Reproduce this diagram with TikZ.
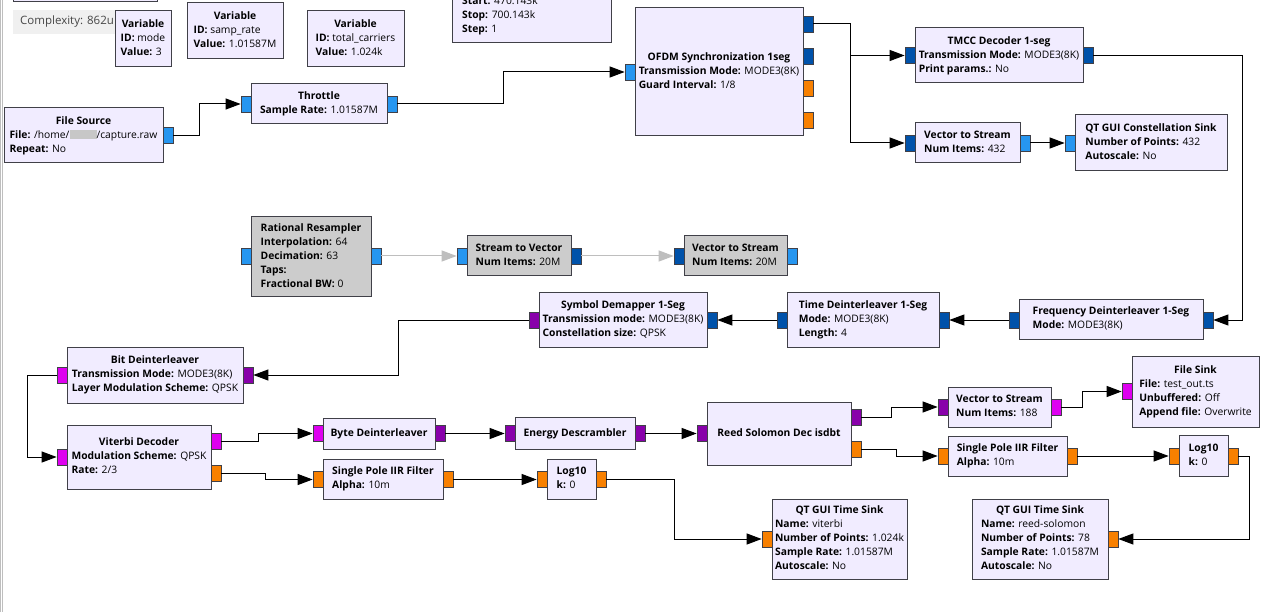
\documentclass[tikz,border=0pt]{standalone}
\usepackage{fontspec}
\setmainfont{Open Sans}
\usetikzlibrary{arrows.meta}
\definecolor{blkfill}{HTML}{F1ECFF}
\definecolor{offfill}{HTML}{CCCCCC}
\definecolor{blkline}{RGB}{64,64,72}
\definecolor{cplx}{RGB}{38,150,240}
\definecolor{cvec}{RGB}{0,82,170}
\definecolor{flt}{RGB}{248,128,0}
\definecolor{byt}{RGB}{222,0,240}
\definecolor{bvec}{RGB}{136,0,170}
\definecolor{offgrey}{RGB}{190,190,190}
\definecolor{cmpbg}{RGB}{240,240,240}
\definecolor{cmptext}{RGB}{70,70,70}
\newcommand\kv[2]{\textbf{#1:} #2}
\newcommand\blocktext[2]{\begin{tabular}{@{}l@{}}\multicolumn{1}{@{}c@{}}{\textbf{#1}}#2\end{tabular}}
\newcommand\blurname{\textcolor{black!22}{\rule[-1pt]{27pt}{9pt}}}
\tikzset{
	blk/.style 2 args={draw=blkline, fill=blkfill, line width=1pt, inner sep=0pt, minimum width=#1pt, minimum height=#2pt, font=\fontsize{10.3}{14}\selectfont},
	offblk/.style 2 args={blk={#1}{#2}, fill=offfill},
	port/.style={draw=blkline, fill=#1, line width=0.7pt, minimum width=10pt, minimum height=16pt, inner sep=0pt},
	wire/.style={line width=1pt, -{Triangle[length=15pt,width=11pt]}},
	offwire/.style={wire, draw=offgrey},
}

\begin{document}
\begin{tikzpicture}[x=1pt, y=-1pt]
		%%%%% START %%%%%
		\fill[white] (0,0) rectangle (1268,612);
		\useasboundingbox (0,0) rectangle (1268,612);
		\clip (0,0) rectangle (1268,612);
		
		\draw[offgrey, line width=1pt] (0.5,0) -- (0.5,612);
		\draw[offgrey, line width=1pt] (2.5,0) -- (2.5,612);
		
		\draw[blkline, fill=blkfill, line width=1pt] (13,-20) rectangle (157,2);
		\fill[cmpbg] (13,10) rectangle (140,34);
		\node[anchor=west, text=cmptext, inner sep=0pt, font=\fontsize{11.5}{13}\selectfont] (cmplx) at (20,22) {Complexity: 862u};
		
		\node[blk={159}{80}, anchor=south west] (range) at (452,43) {};
		\node[anchor=west, inner sep=0pt, align=left, font=\fontsize{10.3}{14}\selectfont] (rangetxt) at (462,16) {\kv{Start}{470.143k}\\ \kv{Stop}{700.143k}\\ \kv{Step}{1}};
		
		% variables
		\node[blk={56}{56}] (vmode) at (143,39) {\blocktext{Variable}{\\ \kv{ID}{mode}\\ \kv{Value}{3}}};
		\node[blk={96}{56}] (vrate) at (235,31) {\blocktext{Variable}{\\ \kv{ID}{samp\_rate}\\ \kv{Value}{1.01587M}}};
		\node[blk={97}{56}] (vcarr) at (355.5,39) {\blocktext{Variable}{\\ \kv{ID}{total\_carriers}\\ \kv{Value}{1.024k}}};
		
		% receive chain
		\node[blk={159}{55}] (fsrc) at (83.5,135.5) {\blocktext{File Source}{\\ \kv{File}{/home/\blurname/capture.raw}\\ \kv{Repeat}{No}}};
		\node[port=cplx] (fsrc-o) at (168,135.5) {};
		
		\node[blk={136}{40}] (thr) at (319,104) {\blocktext{Throttle}{\\ \kv{Sample Rate}{1.01587M}}};
		\node[port=cplx] (thr-i) at (246,104) {};
		\node[port=cplx] (thr-o) at (392,104) {};
		
		\node[blk={168}{128}] (ofdm) at (719,72) {\blocktext{OFDM Synchronization 1seg}{\\ \kv{Transmission Mode}{MODE3(8K)}\\ \kv{Guard Interval}{1/8}}};
		\node[port=cplx] (ofdm-i) at (630,72) {};
		\node[port=cvec] (ofdm-o1) at (808,24) {};
		\node[port=cvec] (ofdm-o2) at (808,56) {};
		\node[port=flt] (ofdm-o3) at (808,88) {};
		\node[port=flt] (ofdm-o4) at (808,120) {};
		
		\node[blk={168}{55}] (tmcc) at (999,55.5) {\blocktext{TMCC Decoder 1-seg}{\\ \kv{Transmission Mode}{MODE3(8K)}\\ \kv{Print params.}{No}}};
		\node[port=cvec] (tmcc-i) at (910,55.5) {};
		\node[port=cvec] (tmcc-o) at (1088,55.5) {};
		
		\node[blk={105}{40}] (vts) at (967.5,143) {\blocktext{Vector to Stream}{\\ \kv{Num Items}{432}}};
		\node[port=cvec] (vts-i) at (910,143) {};
		\node[port=cplx] (vts-o) at (1025,143) {};
		
		\node[blk={152}{56}] (cons) at (1151,143) {\blocktext{QT GUI Constellation Sink}{\\ \kv{Number of Points}{432}\\ \kv{Autoscale}{No}}};
		\node[port=cplx] (cons-i) at (1070,143) {};
		
		% disabled row
		\node[offblk={120}{79}] (rrs) at (311,256.5) {\blocktext{Rational Resampler}{\\ \kv{Interpolation}{64}\\ \kv{Decimation}{63}\\ \textbf{Taps:}\\ \kv{Fractional BW}{0}}};
		\node[port=cplx] (rrs-i) at (246,256) {};
		\node[port=cplx] (rrs-o) at (376,256) {};
		
		\node[offblk={104}{39}] (s2v) at (519,255.5) {\blocktext{Stream to Vector}{\\ \kv{Num Items}{20M}}};
		\node[port=cplx] (s2v-i) at (462,256) {};
		\node[port=cvec] (s2v-o) at (576,256) {};
		
		\node[offblk={103}{39}] (v2s) at (735.5,255.5) {\blocktext{Vector to Stream}{\\ \kv{Num Items}{20M}}};
		\node[port=cvec] (v2s-i) at (679,256) {};
		\node[port=cplx] (v2s-o) at (792,256) {};
		
		% deinterleaving, right to left
		\node[blk={184}{40}] (fdi) at (1111,319) {\blocktext{Frequency Deinterleaver 1-Seg}{\\ \kv{Mode}{MODE3(8K)}}};
		\node[port=cvec] (fdi-i) at (1208,320) {};
		\node[port=cvec] (fdi-o) at (1014,320) {};
		
		\node[blk={152}{55}] (tdi) at (863,319.5) {\blocktext{Time Deinterleaver 1-Seg}{\\ \kv{Mode}{MODE3(8K)}\\ \kv{Length}{4}}};
		\node[port=cvec] (tdi-i) at (944,320) {};
		\node[port=cvec] (tdi-o) at (782,320) {};
		
		\node[blk={168}{55}] (sdm) at (623,319.5) {\blocktext{Symbol Demapper 1-Seg}{\\ \kv{Transmission mode}{MODE3(8K)}\\ \kv{Constellation size}{QPSK}}};
		\node[port=cvec] (sdm-i) at (712,320) {};
		\node[port=bvec] (sdm-o) at (534,320) {};
		
		\node[blk={176}{56}] (bdi) at (155,375) {\blocktext{Bit Deinterleaver}{\\ \kv{Transmission Mode}{MODE3(8K)}\\ \kv{Layer Modulation Scheme}{QPSK}}};
		\node[port=bvec] (bdi-i) at (248,375) {};
		\node[port=byt] (bdi-o) at (62,375) {};
		
		% decoding
		\node[blk={144}{64}] (vit) at (139,457) {\blocktext{Viterbi Decoder}{\\ \kv{Modulation Scheme}{QPSK}\\ \kv{Rate}{2/3}}};
		\node[port=byt] (vit-i) at (62,457) {};
		\node[port=byt] (vit-o1) at (216,441) {};
		\node[port=flt] (vit-o2) at (216,473) {};
		
		\node[blk={112}{31}] (byd) at (379,433.5) {\blocktext{Byte Deinterleaver}{}};
		\node[port=byt] (byd-i) at (318,433.5) {};
		\node[port=bvec] (byd-o) at (440,433.5) {};
		
		\node[blk={120}{32}] (eds) at (575,433.5) {\blocktext{Energy Descrambler}{}};
		\node[port=bvec] (eds-i) at (510,433.5) {};
		\node[port=bvec] (eds-o) at (640,433.5) {};
		
		\node[blk={144}{63}] (rsd) at (779,433.5) {\blocktext{Reed Solomon Dec isdbt}{}};
		\node[port=bvec] (rsd-i) at (702,433.5) {};
		\node[port=bvec] (rsd-o1) at (856,417) {};
		\node[port=flt] (rsd-o2) at (856,449) {};
		
		\node[blk={120}{40}] (iir1) at (383,479) {\blocktext{Single Pole IIR Filter}{\\ \kv{Alpha}{10m}}};
		\node[port=flt] (iir1-i) at (318,479.5) {};
		\node[port=flt] (iir1-o) at (448,479.5) {};
		
		\node[blk={49}{40}] (log1) at (571.5,479) {\blocktext{Log10}{\\ \kv{k}{0}}};
		\node[port=flt] (log1-i) at (542,479.5) {};
		\node[port=flt] (log1-o) at (601,479.5) {};
		
		\node[blk={135}{80}] (tsv) at (839.5,539) {\blocktext{QT GUI Time Sink}{\\ \kv{Name}{viterbi}\\ \kv{Number of Points}{1.024k}\\ \kv{Sample Rate}{1.01587M}\\ \kv{Autoscale}{No}}};
		\node[port=flt] (tsv-i) at (767,539) {};
		
		\node[blk={103}{40}] (vts2) at (999.5,407) {\blocktext{Vector to Stream}{\\ \kv{Num Items}{188}}};
		\node[port=bvec] (vts2-i) at (943,407) {};
		\node[port=byt] (vts2-o) at (1056,407) {};
		
		\node[blk={127}{71}] (fsnk) at (1195.5,391.5) {\blocktext{File Sink}{\\ \kv{File}{test\_out.ts}\\ \kv{Unbuffered}{Off}\\ \kv{Append file}{Overwrite}}};
		\node[port=byt] (fsnk-i) at (1127,391.5) {};
		
		\node[blk={119}{40}] (iir2) at (1007.5,456) {\blocktext{Single Pole IIR Filter}{\\ \kv{Alpha}{10m}}};
		\node[port=flt] (iir2-i) at (943,456) {};
		\node[port=flt] (iir2-o) at (1072,456) {};
		
		\node[blk={49}{41}] (log2) at (1203.5,455.5) {\blocktext{Log10}{\\ \kv{k}{0}}};
		\node[port=flt] (log2-i) at (1174,456) {};
		\node[port=flt] (log2-o) at (1233,456) {};
		
		\node[blk={136}{80}] (tsr) at (1040,539) {\blocktext{QT GUI Time Sink}{\\ \kv{Name}{reed-solomon}\\ \kv{Number of Points}{78}\\ \kv{Sample Rate}{1.01587M}\\ \kv{Autoscale}{No}}};
		\node[port=flt] (tsr-i) at (1113,539) {};
		
		% connections
		\draw[wire] (fsrc-o.east) -- ++(26,0) |- (thr-i.west);
		\draw[wire] (thr-o.east) -- ++(106,0) |- (ofdm-i.west);
		\draw[wire] (ofdm-o1.east) -- ++(37,0) |- (tmcc-i.west);
		\draw[wire] (ofdm-o1.east) -- ++(37,0) |- (vts-i.west);
		\draw[wire] (vts-o.east) -- (cons-i.west);
		\draw[wire] (tmcc-o.east) -- ++(149,0) |- (fdi-i.east);
		\draw[wire] (fdi-o.west) -- (tdi-i.east);
		\draw[wire] (tdi-o.west) -- (sdm-i.east);
		\draw[wire] (sdm-o.west) -- ++(-130,0) |- (bdi-i.east);
		\draw[wire] (bdi-o.west) -- ++(-29,0) |- (vit-i.west);
		\draw[wire] (vit-o1.east) -- ++(37,0) |- (byd-i.west);
		\draw[wire] (vit-o2.east) -- ++(44,0) |- (iir1-i.west);
		\draw[wire] (byd-o.east) -- (eds-i.west);
		\draw[wire] (eds-o.east) -- (rsd-i.west);
		\draw[wire] (iir1-o.east) -- (log1-i.west);
		\draw[wire] (log1-o.east) -- ++(68,0) |- (tsv-i.west);
		\draw[wire] (rsd-o1.east) -- ++(30,0) |- (vts2-i.west);
		\draw[wire] (rsd-o2.east) -- ++(35,0) |- (iir2-i.west);
		\draw[wire] (vts2-o.east) -- ++(21,0) |- (fsnk-i.west);
		\draw[wire] (iir2-o.east) -- (log2-i.west);
		\draw[wire] (log2-o.east) -- ++(11,0) |- (tsr-i.east);
		\draw[offwire] (rrs-o.east) -- (s2v-i.west);
		\draw[offwire] (s2v-o.east) -- (v2s-i.west);
		
		%%%%% END %%%%%
\end{tikzpicture}
\end{document}
